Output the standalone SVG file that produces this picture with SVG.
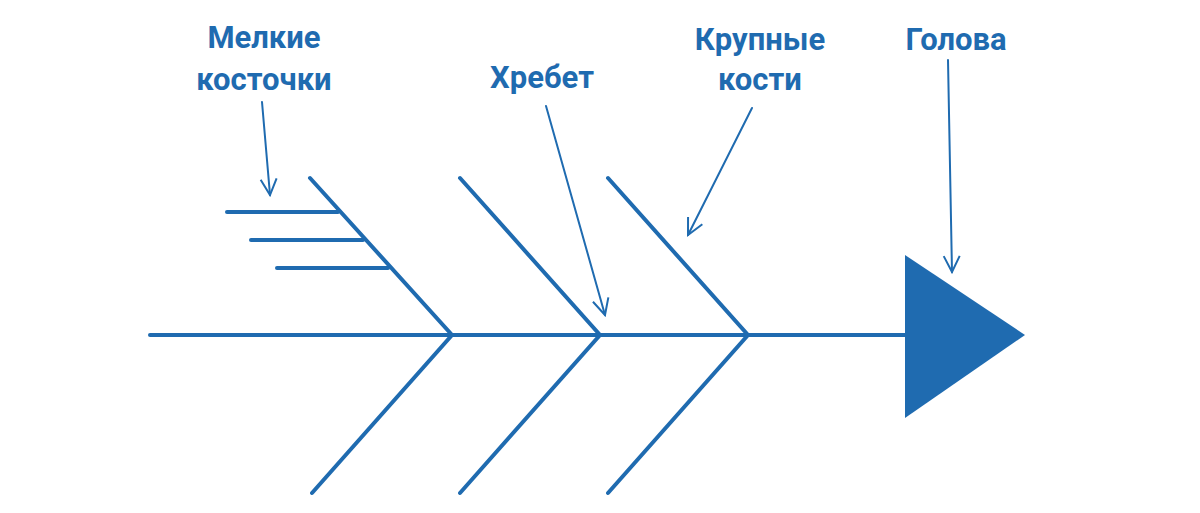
<svg xmlns="http://www.w3.org/2000/svg" width="1200" height="513" viewBox="0 0 1200 513">
<defs>
<style>
.l{stroke:#1f6bb0;stroke-width:4;fill:none;stroke-linecap:round}
.a{stroke:#1f6bb0;stroke-width:2;fill:none;stroke-linecap:round}
text{font-family:Roboto,"Liberation Sans",sans-serif;font-weight:bold;font-size:31px;fill:#1f6bb0;text-anchor:middle}
</style>
<marker id="v" viewBox="0 0 20 20" refX="18" refY="10" markerWidth="20" markerHeight="20" markerUnits="userSpaceOnUse" orient="auto">
<path d="M2,2 L18,10 L2,18" fill="none" stroke="#1f6bb0" stroke-width="2"/>
</marker>
</defs>
<rect width="1200" height="513" fill="#fff"/>
<g id="spine"><line class="l" x1="150" y1="335" x2="906" y2="335"/></g>
<g id="head"><polygon points="905,255 905,418 1025,335" fill="#1f6bb0"/></g>
<g id="bones">
<polyline class="l" points="310,178 452,335 312,493"/>
<polyline class="l" points="460,178 600,335 460,493"/>
<polyline class="l" points="608,178 748,335 608,493"/>
</g>
<g id="small-bones">
<line class="l" x1="227" y1="212" x2="338" y2="212"/>
<line class="l" x1="251" y1="240" x2="363" y2="240"/>
<line class="l" x1="277" y1="268" x2="388" y2="268"/>
</g>
<g id="connectors">
<line class="a" x1="262" y1="102" x2="270" y2="195" marker-end="url(#v)"/>
<line class="a" x1="546" y1="106" x2="605" y2="315" marker-end="url(#v)"/>
<line class="a" x1="752" y1="108" x2="688" y2="235" marker-end="url(#v)"/>
<line class="a" x1="948" y1="60" x2="952" y2="272" marker-end="url(#v)"/>
</g>
<g id="labels">
<text x="264" y="48">Мелкие</text>
<text x="264" y="90">косточки</text>
<text x="542" y="88">Хребет</text>
<text x="760" y="50">Крупные</text>
<text x="760" y="90">кости</text>
<text x="956" y="50">Голова</text>
</g>
</svg>
